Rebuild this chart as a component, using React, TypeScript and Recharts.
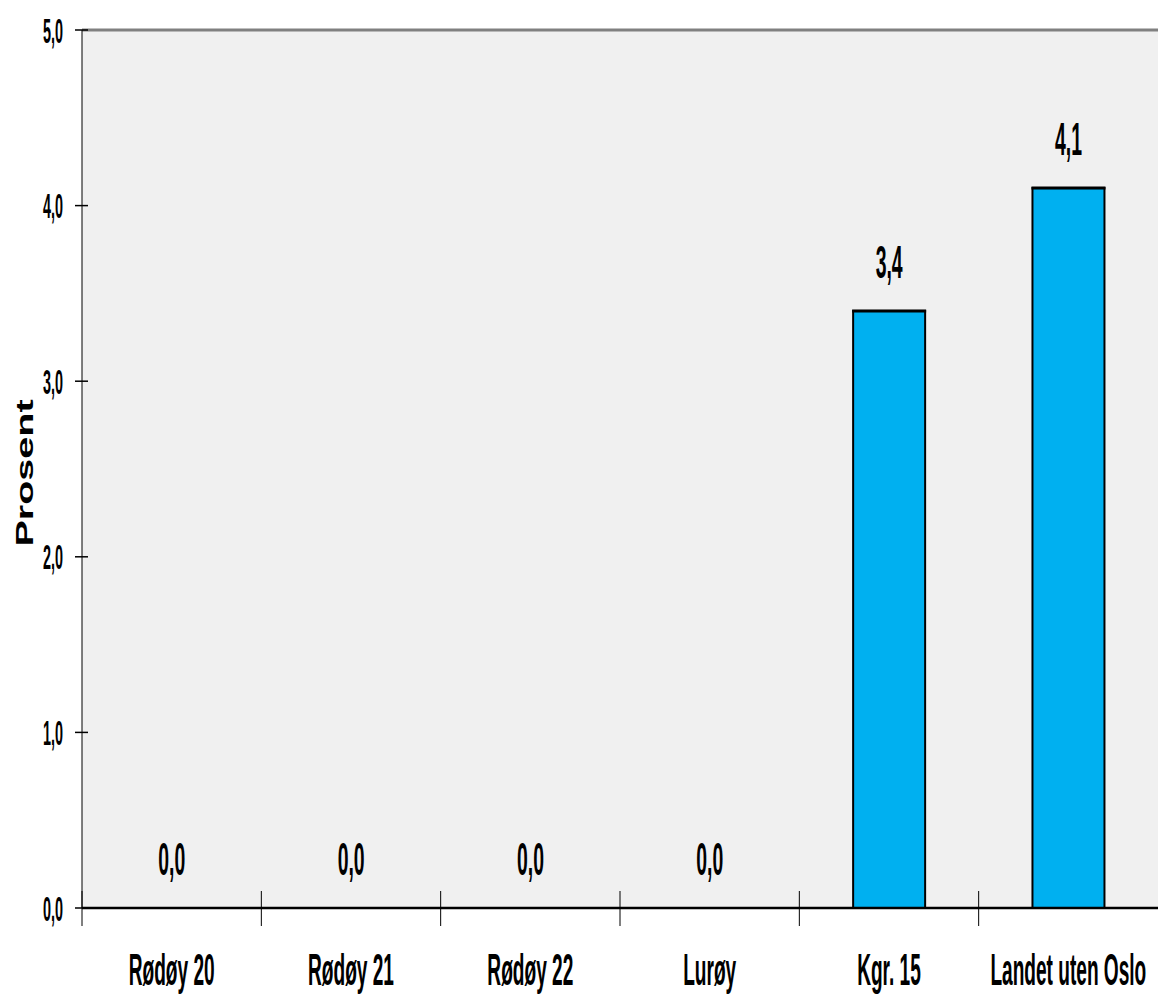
import React from 'react';
import { BarChart, Bar, XAxis, YAxis, CartesianGrid, ReferenceLine, LabelList, Label } from 'recharts';

const categories = ['Rødøy 20', 'Rødøy 21', 'Rødøy 22', 'Lurøy', 'Kgr. 15', 'Landet uten Oslo'];
const values = [0, 0, 0, 0, 3.4, 4.1];
const yTicks = [0, 1, 2, 3, 4, 5];

const data = categories.map((name, i) => ({ name, value: values[i] }));

const W = 1158;
const H = 998;
const AXIS_W = 82;
const PLOT_W = W - AXIS_W;
const BAND = PLOT_W / categories.length;
const FONT = '"Liberation Sans", Arial, sans-serif';

const fmt = (v: number) => v.toFixed(1).replace('.', ',');

const YTick = (props: any) => {
  const { x, y, payload } = props;
  return (
    <g>
      <line x1={x - 7} x2={x + 6} y1={y} y2={y} stroke="#000" strokeWidth={1.5} />
      <text
        transform={`translate(${x - 19}, ${y + 12.5}) scale(0.96, 2.33)`}
        textAnchor="end"
        fontFamily={FONT}
        fontWeight="bold"
        fontSize={15}
        fill="#000"
      >
        {fmt(payload.value)}
      </text>
    </g>
  );
};

const XTick = (props: any) => {
  const { x, y, payload } = props;
  const left = x - BAND / 2;
  return (
    <g>
      <line x1={left} x2={left} y1={y - 17} y2={y + 18} stroke="#000" strokeWidth={1} />
      <text
        transform={`translate(${x}, ${y + 77}) scale(0.955, 2.25)`}
        textAnchor="middle"
        fontFamily={FONT}
        fontWeight="bold"
        fontSize={20}
        fill="#000"
      >
        {payload.value}
      </text>
    </g>
  );
};

const BarShape = (props: any) => {
  const { x, y, width, height } = props;
  if (!height || height <= 0) return null;
  return (
    <g>
      <rect x={x} y={y} width={width} height={height} fill="#00B0F0" stroke="#000" strokeWidth={2} />
      <line x1={x - 1} x2={x + width + 1} y1={y} y2={y} stroke="#000" strokeWidth={3} />
    </g>
  );
};

const ValueLabel = (props: any) => {
  const { x, y, width, value } = props;
  return (
    <text
      transform={`translate(${x + width / 2}, ${y - 33}) scale(0.97, 2.3)`}
      textAnchor="middle"
      fontFamily={FONT}
      fontWeight="bold"
      fontSize={20}
      fill="#000"
    >
      {fmt(value)}
    </text>
  );
};

const AxisTitle = (props: any) => {
  const vb = props.viewBox || { x: 0, y: 30, width: AXIS_W, height: 878 };
  const cy = vb.y + vb.height / 2 + 4;
  return (
    <text
      transform={`translate(33, ${cy}) rotate(-90) scale(1.72, 1)`}
      textAnchor="middle"
      fontFamily={FONT}
      fontWeight="bold"
      fontSize={23}
      fill="#000"
    >
      Prosent
    </text>
  );
};

export default function App() {
  return (
    <div style={{ position: 'absolute', left: 0, top: 0, width: W, height: H, background: '#fff' }}>
      <BarChart
        width={W}
        height={H}
        data={data}
        margin={{ top: 30, right: 0, bottom: 30, left: 0 }}
        barCategoryGap="30%"
      >
        <CartesianGrid stroke="none" fill="#F0F0F0" />
        <XAxis
          dataKey="name"
          height={60}
          axisLine={{ stroke: '#000', strokeWidth: 2.5 }}
          tickLine={false}
          tickSize={0}
          tickMargin={0}
          tick={<XTick />}
          interval={0}
        />
        <YAxis
          width={AXIS_W}
          domain={[0, 5]}
          ticks={yTicks}
          axisLine={{ stroke: '#000', strokeWidth: 1 }}
          tickLine={false}
          tickSize={0}
          tickMargin={0}
          tick={<YTick />}
        >
          <Label content={<AxisTitle />} />
        </YAxis>
        <ReferenceLine y={5} stroke="#808080" strokeWidth={3} />
        <Bar dataKey="value" shape={<BarShape />} isAnimationActive={false}>
          <LabelList dataKey="value" content={<ValueLabel />} />
        </Bar>
      </BarChart>
    </div>
  );
}
